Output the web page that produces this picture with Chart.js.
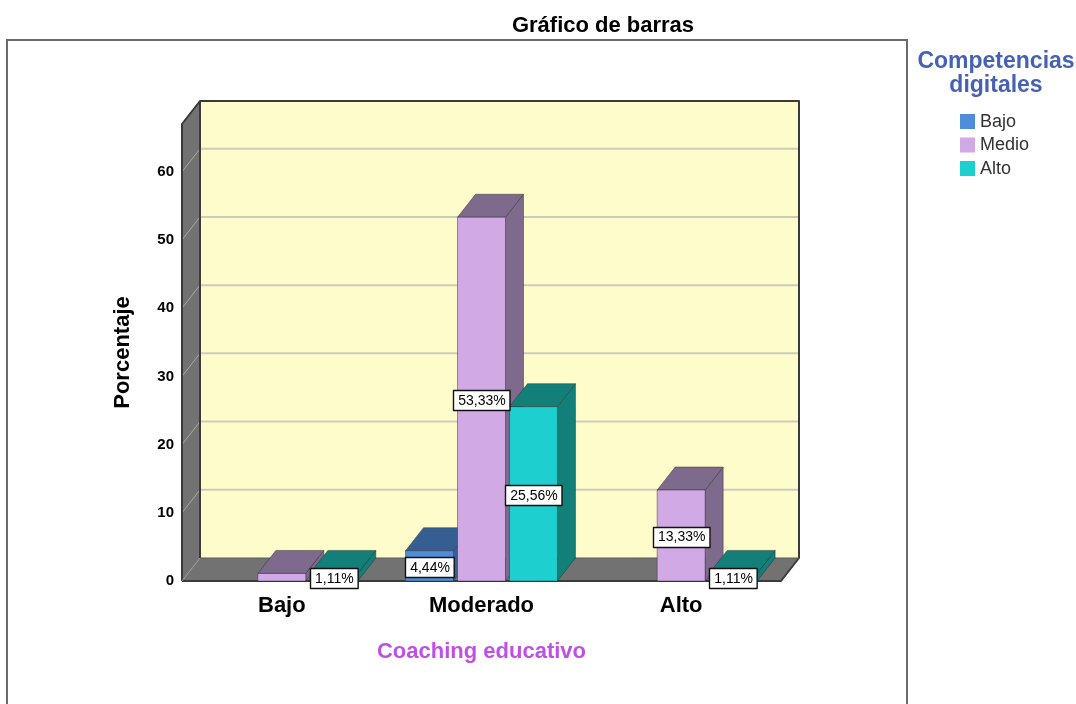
<!DOCTYPE html>
<html>
<head>
<meta charset="utf-8">
<script src="https://cdn.jsdelivr.net/npm/chart.js@4/dist/chart.umd.min.js"></script>
<style>
  html, body { margin: 0; padding: 0; background: #fff; }
  #wrap { width: 1076px; height: 704px; }
</style>
</head>
<body>
<div id="wrap"><canvas id="chart" width="1076" height="704"></canvas></div>
<script>
// Coaching educativo x Competencias digitales (percent of total)
const categories  = ['Bajo', 'Moderado', 'Alto'];
const seriesNames = ['Bajo', 'Medio', 'Alto'];
const bajoValues  = [null, 4.44, null];
const medioValues = [1.11, 53.33, 13.33];
const altoValues  = [1.11, 25.56, 1.11];
// which bars carry a value label (SPSS dropped one of them)
const bajoShowLabel  = [false, true, false];
const medioShowLabel = [false, true, true];
const altoShowLabel  = [true, true, true];
const yTicks = [0, 10, 20, 30, 40, 50, 60];
const yMax = 67;

const FONT = "'Liberation Sans', Arial, sans-serif";
const DX = 18, DY = 23; // depth of the 3D box

// front / shaded colours per series
const frontColors = ['#4f8ddb', '#d1a9e5', '#1dcfcf'];
const darkColors  = ['#355f93', '#7e6a8c', '#128079'];

function poly(ctx, pts, fill, stroke, lw) {
  ctx.beginPath();
  pts.forEach((p, i) => i ? ctx.lineTo(p[0], p[1]) : ctx.moveTo(p[0], p[1]));
  ctx.closePath();
  if (fill) { ctx.fillStyle = fill; ctx.fill(); }
  if (stroke) { ctx.strokeStyle = stroke; ctx.lineWidth = lw || 1; ctx.stroke(); }
}

function line(ctx, x0, y0, x1, y1, color, lw) {
  ctx.beginPath();
  ctx.moveTo(x0, y0);
  ctx.lineTo(x1, y1);
  ctx.strokeStyle = color;
  ctx.lineWidth = lw;
  ctx.stroke();
}

const fmt = v => v.toFixed(2).replace('.', ',') + '%';

/**
 * Draws the 3D box (walls, floor, grid) and the extruded bars,
 * using the bar elements Chart.js laid out.
 */
const bars3d = {
  id: 'bars3d',
  beforeDatasetsDraw(chart) {
    const { ctx, chartArea: a, scales: { y } } = chart;
    ctx.save();

    // back wall
    ctx.fillStyle = '#fefccb';
    ctx.fillRect(a.left + DX, a.top - DY, a.right - a.left, a.bottom - a.top);
    // left wall + floor
    poly(ctx, [[a.left, a.top], [a.left + DX, a.top - DY], [a.left + DX, a.bottom - DY], [a.left, a.bottom]], '#727272');
    poly(ctx, [[a.left, a.bottom], [a.left + DX, a.bottom - DY], [a.right + DX, a.bottom - DY], [a.right, a.bottom]], '#727272');

    // gridlines on back wall and left wall
    y.ticks.forEach(t => {
      if (t.value === 0) return;
      const py = y.getPixelForValue(t.value);
      line(ctx, a.left + DX, py - DY, a.right + DX, py - DY, '#cdccbc', 2);
      line(ctx, a.left, py, a.left + DX, py - DY, '#a8a8a8', 1);
    });

    // box edges
    ctx.lineJoin = 'round';
    ctx.beginPath();
    ctx.moveTo(a.left, a.bottom);
    ctx.lineTo(a.left, a.top);
    ctx.lineTo(a.left + DX, a.top - DY);
    ctx.lineTo(a.right + DX, a.top - DY);
    ctx.lineTo(a.right + DX, a.bottom - DY);
    ctx.lineTo(a.right, a.bottom);
    ctx.lineTo(a.left, a.bottom);
    ctx.strokeStyle = '#3a3a3a';
    ctx.lineWidth = 2;
    ctx.stroke();
    line(ctx, a.left + DX, a.top - DY, a.left + DX, a.bottom - DY, '#3a3a3a', 2);
    line(ctx, a.left + DX, a.bottom - DY, a.right + DX, a.bottom - DY, '#5a5a5a', 1);
    line(ctx, a.left, a.bottom, a.left + DX, a.bottom - DY, '#9a9a9a', 1);

    // bars, left to right so later fronts hide earlier side faces
    const metas = chart.data.datasets.map((d, i) => chart.getDatasetMeta(i));
    categories.forEach((c, j) => {
      metas.forEach((m, i) => {
        const v = chart.data.datasets[i].data[j];
        if (v == null) return;
        const el = m.data[j];
        const x0 = el.x - el.width / 2, x1 = el.x + el.width / 2;
        const top = el.y, base = el.base;
        const edge = 'rgba(40,40,40,0.45)';
        poly(ctx, [[x1, top], [x1 + DX, top - DY], [x1 + DX, base - DY], [x1, base]], darkColors[i], edge, 1);
        poly(ctx, [[x0, top], [x0 + DX, top - DY], [x1 + DX, top - DY], [x1, top]], darkColors[i], edge, 1);
        poly(ctx, [[x0, top], [x1, top], [x1, base], [x0, base]], frontColors[i], edge, 1);
      });
    });

    // value labels
    const showLabels = [bajoShowLabel, medioShowLabel, altoShowLabel];
    ctx.font = '14px ' + FONT;
    ctx.textAlign = 'center';
    ctx.textBaseline = 'middle';
    metas.forEach((m, i) => {
      chart.data.datasets[i].data.forEach((v, j) => {
        if (v == null || !showLabels[i][j]) return;
        const el = m.data[j];
        const txt = fmt(v);
        const w = ctx.measureText(txt).width + 9, h = 20;
        const cy = Math.min((el.y + el.base) / 2 + 1, a.bottom - 2);
        ctx.fillStyle = '#fff';
        ctx.fillRect(Math.round(el.x - w / 2) + 0.5, Math.round(cy - h / 2) + 0.5, w, h);
        ctx.strokeStyle = '#111';
        ctx.lineWidth = 1.4;
        ctx.strokeRect(Math.round(el.x - w / 2) + 0.5, Math.round(cy - h / 2) + 0.5, w, h);
        ctx.fillStyle = '#000';
        ctx.fillText(txt, el.x + 0.5, cy + 1);
      });
    });

    ctx.restore();
    return false;
  },
  afterDraw(chart) {
    const { ctx } = chart;
    ctx.save();
    // outer frame
    ctx.beginPath();
    ctx.moveTo(7, 704);
    ctx.lineTo(7, 40);
    ctx.lineTo(907, 40);
    ctx.lineTo(907, 704);
    ctx.strokeStyle = '#6a6a6a';
    ctx.lineWidth = 2;
    ctx.stroke();

    // title
    ctx.fillStyle = '#000';
    ctx.font = 'bold 22px ' + FONT;
    ctx.textAlign = 'center';
    ctx.textBaseline = 'middle';
    ctx.fillText('Gráfico de barras', 603, 26);

    // legend
    ctx.fillStyle = '#4662b4';
    ctx.font = 'bold 23px ' + FONT;
    ctx.fillText('Competencias', 996, 62);
    ctx.fillText('digitales', 996, 86);
    ctx.font = '18px ' + FONT;
    ctx.textAlign = 'left';
    seriesNames.forEach((name, i) => {
      const cy = 121 + i * 23.5;
      ctx.fillStyle = chart.data.datasets[i].backgroundColor;
      ctx.fillRect(960, cy - 7, 15, 15);
      ctx.fillStyle = '#333';
      ctx.fillText(name, 980, cy + 1);
    });
    ctx.restore();
  }
};

new Chart(document.getElementById('chart'), {
  type: 'bar',
  data: {
    labels: categories,
    datasets: [
      { label: seriesNames[0], data: bajoValues,  backgroundColor: frontColors[0] },
      { label: seriesNames[1], data: medioValues, backgroundColor: frontColors[1] },
      { label: seriesNames[2], data: altoValues,  backgroundColor: frontColors[2] }
    ]
  },
  options: {
    responsive: false,
    animation: false,
    devicePixelRatio: 1,
    categoryPercentage: 0.781,
    barPercentage: 0.923,
    layout: { padding: { top: 124, right: 295, left: 0, bottom: 0 } },
    plugins: { legend: { display: false }, title: { display: false }, tooltip: { enabled: false } },
    scales: {
      x: {
        grid: { display: false, drawTicks: false },
        border: { display: false },
        ticks: { color: '#000', font: { family: FONT, size: 22, weight: 'bold' }, padding: 12 },
        title: {
          display: true, text: 'Coaching educativo', color: '#bf50e6',
          font: { family: FONT, size: 22, weight: 'bold' }, padding: { bottom: 39 }
        },
        afterFit: s => { s.height = 123; }
      },
      y: {
        min: 0, max: yMax,
        grid: { display: false, drawTicks: false },
        border: { display: false },
        afterBuildTicks: s => { s.ticks = yTicks.map(v => ({ value: v })); },
        ticks: { color: '#000', font: { family: FONT, size: 15, weight: 'bold' }, padding: 8 },
        title: {
          display: true, text: 'Porcentaje', color: '#000',
          font: { family: FONT, size: 22, weight: 'bold' }, padding: { top: 110 }
        },
        afterFit: s => { s.width = 182; }
      }
    }
  },
  plugins: [bars3d]
});
</script>
</body>
</html>
